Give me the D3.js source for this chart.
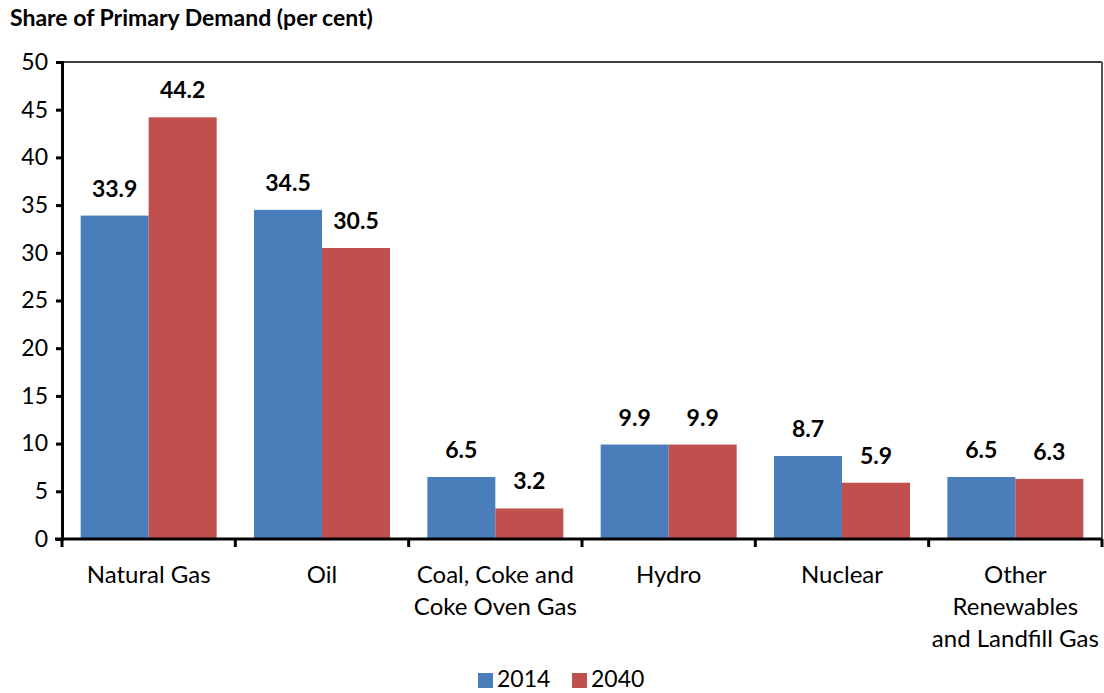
<!DOCTYPE html>
<html><head><meta charset="utf-8">
<script src="https://cdn.jsdelivr.net/npm/d3@7"></script>
<style>body{margin:0;background:#fff;} text{font-family:Lato,"Open Sans",sans-serif;fill:#000;}</style>
</head><body>
<svg id="c" width="1104" height="693"></svg>
<script>
const categories = [["Natural Gas"],["Oil"],["Coal, Coke and","Coke Oven Gas"],["Hydro"],["Nuclear"],["Other","Renewables","and Landfill Gas"]];
const seriesNames = ["2014","2040"];
const values2014 = [33.9,34.5,6.5,9.9,8.7,6.5];
const values2040 = [44.2,30.5,3.2,9.9,5.9,6.3];
const yTicks = [0,5,10,15,20,25,30,35,40,45,50];
const colors = ["#4a7ebb","#c0504d"];
const title = "Share of Primary Demand (per cent)";

const svg = d3.select("#c");
const L=62, R=1102, T=62, B=539;
const x0 = d3.scaleBand().domain(d3.range(categories.length)).range([L,R]);
const y = d3.scaleLinear().domain([0,50]).range([B,T]);
const barW = 68;

svg.append("text").attr("x",10).attr("y",26).attr("font-size",23).attr("font-weight","bold").text(title);

// plot border top/right
svg.append("line").attr("x1",L).attr("x2",R).attr("y1",T).attr("y2",T).attr("stroke","#000").attr("stroke-width",1.5);
svg.append("line").attr("x1",R).attr("x2",R).attr("y1",T).attr("y2",B).attr("stroke","#555").attr("stroke-width",2);

const series=[values2014,values2040];
const g = svg.append("g");
series.forEach((vals,si)=>{
  g.selectAll(null).data(vals).enter().append("rect")
   .attr("x",(d,i)=>x0(i)+x0.bandwidth()/2-barW+si*barW)
   .attr("width",barW)
   .attr("y",d=>y(d)).attr("height",d=>B-y(d)).attr("fill",colors[si]);
  g.selectAll(null).data(vals).enter().append("text")
   .attr("x",(d,i)=>x0(i)+x0.bandwidth()/2-barW/2+si*barW)
   .attr("y",d=>y(d)-19).attr("text-anchor","middle")
   .attr("font-size",23).attr("font-weight","bold").text(d=>d.toFixed(1));
});

// y axis
const ya = svg.append("g").attr("transform",`translate(${L},0)`)
  .call(d3.axisLeft(y).tickValues(yTicks).tickSize(6).tickPadding(8));
ya.select(".domain").attr("stroke","#000").attr("stroke-width",3);
ya.selectAll(".tick line").attr("stroke","#000").attr("stroke-width",3);
ya.selectAll(".tick text").attr("font-size",23).attr("font-family","Lato,sans-serif").attr("fill","#000");

// x axis
const xa = svg.append("g").attr("transform",`translate(0,${B})`);
xa.append("line").attr("x1",L-7).attr("x2",R).attr("y1",0).attr("y2",0).attr("stroke","#000").attr("stroke-width",3);
const bounds = d3.range(categories.length+1).map(i=> i<categories.length? x0(i): R);
xa.selectAll(null).data(bounds).enter().append("line")
  .attr("x1",d=>d).attr("x2",d=>d).attr("y1",0).attr("y2",8).attr("stroke","#000").attr("stroke-width",3);
categories.forEach((lines,i)=>{
  const cx = x0(i)+x0.bandwidth()/2;
  const t = xa.append("text").attr("text-anchor","middle").attr("font-size",24)
    .attr("x",cx).attr("y",44);
  lines.forEach((ln,j)=>t.append("tspan").attr("x",cx).attr("dy",j?32:0).text(ln));
});

// legend
const leg = svg.append("g");
const lx=[478,572];
seriesNames.forEach((s,i)=>{
  leg.append("rect").attr("x",lx[i]).attr("y",673).attr("width",15).attr("height",15).attr("fill",colors[i]);
  leg.append("text").attr("x",lx[i]+19).attr("y",687).attr("font-size",23).text(s);
});
</script>
</body></html>
